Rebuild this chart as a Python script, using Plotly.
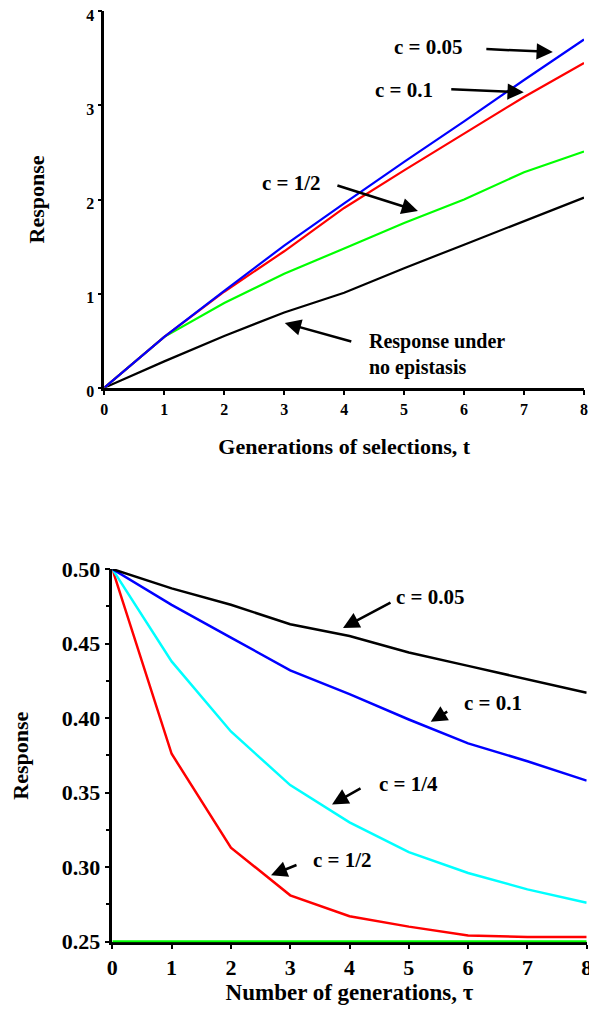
import plotly.graph_objects as go

# ---------------- data ----------------
t_gen = [0, 1, 2, 3, 4, 5, 6, 7, 8]
top_no_epistasis = [0, 0.28, 0.55, 0.80, 1.01, 1.27, 1.52, 1.77, 2.02]
top_c005 = [0, 0.54, 1.03, 1.51, 1.96, 2.40, 2.83, 3.27, 3.70]
top_c01 = [0, 0.54, 1.02, 1.45, 1.91, 2.31, 2.70, 3.09, 3.45]
top_c_half = [0, 0.54, 0.90, 1.21, 1.48, 1.75, 2.00, 2.29, 2.51]

tau = [0, 1, 2, 3, 4, 5, 6, 7, 8]
bot_c005 = [0.500, 0.487, 0.476, 0.463, 0.455, 0.444, 0.435, 0.426, 0.417]
bot_c01 = [0.500, 0.476, 0.454, 0.432, 0.416, 0.399, 0.383, 0.371, 0.358]
bot_c_quarter = [0.500, 0.438, 0.391, 0.355, 0.330, 0.310, 0.296, 0.285, 0.276]
bot_c_half = [0.500, 0.376, 0.313, 0.281, 0.267, 0.260, 0.254, 0.253, 0.253]
bot_baseline = [0.25] * 9

top_y_ticks = [0, 1, 2, 3, 4]
bot_y_ticks = [0.25, 0.30, 0.35, 0.40, 0.45, 0.50]
x_ticks = [0, 1, 2, 3, 4, 5, 6, 7, 8]

FAM = "Liberation Serif, Times New Roman, serif"
LW = 2.2

fig = go.Figure()

# top panel
for ys, col in [(top_no_epistasis, "black"), (top_c_half, "#00ff00"),
                (top_c01, "#ff0000"), (top_c005, "#0000ff")]:
    fig.add_trace(go.Scatter(x=t_gen, y=ys, mode="lines",
                             line=dict(color=col, width=LW),
                             xaxis="x", yaxis="y", showlegend=False))

# bottom panel
for ys, col in [(bot_baseline, "#00ff00"), (bot_c_half, "#ff0000"),
                (bot_c_quarter, "#00ffff"), (bot_c01, "#0000ff"),
                (bot_c005, "black")]:
    fig.add_trace(go.Scatter(x=tau, y=ys, mode="lines",
                             line=dict(color=col, width=LW + 0.3),
                             xaxis="x2", yaxis="y2", showlegend=False))

tick_font_top = dict(family=FAM, size=16, color="black", weight="bold")
tick_font_bot = dict(family=FAM, size=22, color="black", weight="bold")
title_font = dict(family=FAM, size=22, color="black", weight="bold")

common_axis = dict(showgrid=False, zeroline=False, showline=True,
                   linecolor="black", linewidth=2.5, ticks="outside",
                   tickcolor="black", tickwidth=2, layer="below traces",
                   automargin=False, ticklabeloverflow="allow")

fig.update_layout(
    width=589, height=1003,
    margin=dict(l=92, r=8, t=2, b=2),
    paper_bgcolor="white", plot_bgcolor="white",
    xaxis=dict(common_axis, domain=[0.0088, 0.9898], anchor="y",
               range=[0, 8], tickvals=x_ticks, ticklen=5,
               tickfont=tick_font_top,
               title=dict(text="Generations of selections, t",
                          font=title_font, standoff=22)),
    yaxis=dict(common_axis, domain=[0.6219, 0.9987], anchor="x",
               range=[0, 4], tickvals=top_y_ticks, ticklen=4,
               tickfont=tick_font_top, ticklabelshift=4,
               title=dict(text="Response", font=title_font, standoff=36)),
    xaxis2=dict(common_axis, domain=[0.0252, 0.9953], anchor="y2",
                range=[0, 8], tickvals=x_ticks, ticklen=4,
                tickfont=tick_font_bot,
                title=dict(text="Number of generations, τ",
                           font=dict(title_font, size=23), standoff=4)),
    yaxis2=dict(common_axis, domain=[0.0668, 0.4404], anchor="x2",
                range=[0.2495, 0.5], tickvals=bot_y_ticks, ticklen=5,
                tickformat=".2f", tickfont=tick_font_bot,
                minor=dict(dtick=0.025, tick0=0.25, ticks="outside",
                           ticklen=4, tickwidth=2, tickcolor="black"),
                title=dict(text="Response", font=title_font, standoff=32)),
)

ann_font = dict(family=FAM, size=21, color="black", weight="bold")

def label(x, y, text, xr, yr, xanchor="center", size=21):
    fig.add_annotation(x=x, y=y, xref=xr, yref=yr, text=text,
                       showarrow=False, font=dict(ann_font, size=size),
                       xanchor=xanchor, yanchor="middle", align="left")

def arrow(x, y, ax, ay, xr, yr):
    fig.add_annotation(x=x, y=y, xref=xr, yref=yr, text="",
                       showarrow=True, ax=ax, ay=ay,
                       arrowhead=2, arrowsize=1.3, arrowwidth=2.5,
                       arrowcolor="black")

# top annotations
label(5.40, 3.62, "c = 0.05", "x", "y")
arrow(7.48, 3.567, -68, -3, "x", "y")
label(5.00, 3.16, "c = 0.1", "x", "y")
arrow(6.995, 3.14, -74, -3, "x", "y")
label(3.13, 2.18, "c = 1/2", "x", "y")
arrow(5.23, 1.877, -82, -26, "x", "y")
label(4.38, 0.358, "Response under<br>no epistasis", "x", "y",
      xanchor="left", size=20)
arrow(3.01, 0.688, 68, 19, "x", "y")

# bottom annotations
label(5.36, 0.4812, "c = 0.05", "x2", "y2")
arrow(3.89, 0.4605, 49, -26, "x2", "y2")
label(6.42, 0.4103, "c = 0.1", "x2", "y2")
arrow(5.37, 0.3975, 18, -11, "x2", "y2")
label(5.00, 0.356, "c = 1/4", "x2", "y2")
arrow(3.705, 0.342, 30, -17, "x2", "y2")
label(3.875, 0.3044, "c = 1/2", "x2", "y2")
arrow(2.676, 0.2944, 27, -11, "x2", "y2")

fig.write_html("out.html")
